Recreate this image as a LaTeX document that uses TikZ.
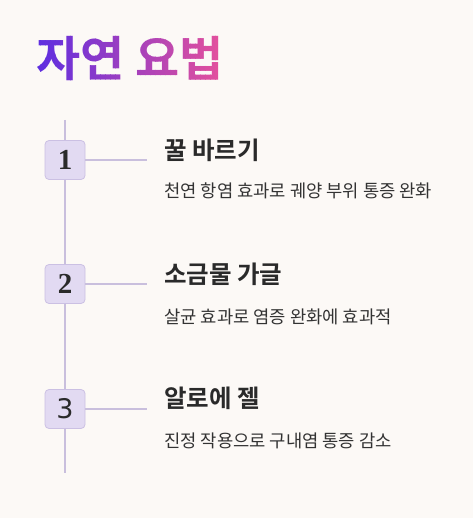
\documentclass[tikz,border=0pt]{standalone}
\usepackage{fontspec}
\newfontfamily\kr{Noto Sans CJK KR}
\newfontfamily\krb{Noto Sans CJK KR Bold}
\newfontfamily\numserif{Liberation Serif}
\newfontfamily\numsans{DejaVu Sans}
\definecolor{bg}{HTML}{FCF9F6}
\definecolor{linec}{HTML}{C9BFDD}
\definecolor{boxfill}{HTML}{E2DAF2}
\definecolor{boxdraw}{HTML}{CBC0E3}
\definecolor{headc}{HTML}{2A2A2A}
\definecolor{descc}{HTML}{333333}
\definecolor{gradl}{HTML}{5A2DE2}
\definecolor{gradr}{HTML}{E8529A}
\tikzset{
  numbox/.style={draw=boxdraw, fill=boxfill, line width=0.8pt, rounded corners=4pt, minimum width=40pt, minimum height=39pt, inner sep=0pt, text=headc},
  spine/.style={draw=linec, line width=1.3pt},
  heading/.style={anchor=base west, inner sep=0pt, text=headc, font=\krb\fontsize{24.5}{28}\selectfont},
  desc/.style={anchor=base west, inner sep=0pt, text=descc, font=\kr\fontsize{17.7}{20}\selectfont},
  titletext/.style={anchor=base west, inner sep=0pt, font=\krb\fontsize{48}{52}\selectfont}
}
\begin{document}
\begin{tikzpicture}[x=1pt,y=-1pt]
\fill[bg] (0,0) rectangle (473,518);
\useasboundingbox (0,0) rectangle (473,518);
% gradient title
\foreach \i in {0,...,39}{
  \pgfmathsetmacro{\xa}{30+\i*5}
  \pgfmathsetmacro{\xb}{30+\i*5+5.3}
  \pgfmathsetmacro{\p}{\i*100/39}
  \colorlet{tc}{gradr!\p!gradl}
  \begin{scope}
    \clip (\xa,20) rectangle (\xb,100);
    \node[titletext, text=tc] (title\i) at (36,77) {자연 요법};
  \end{scope}
}
\coordinate (top) at (65,120);
\coordinate (bot) at (65,473);
\node[numbox, font=\numserif\bfseries\fontsize{29}{30}\selectfont] (n1) at (65,160) {1};
\node[numbox, font=\numserif\bfseries\fontsize{29}{30}\selectfont] (n2) at (65,284) {2};
\node[numbox, font=\numsans\fontsize{27}{28}\selectfont] (n3) at (65,409) {3};
\coordinate (h1) at (147,160);
\coordinate (h2) at (147,284);
\coordinate (h3) at (147,409);
\draw[spine] (top) -- (n1.north);
\draw[spine] (n1.south) -- (n2.north);
\draw[spine] (n2.south) -- (n3.north);
\draw[spine] (n3.south) -- (bot);
\draw[spine] (n1.east) -- (h1);
\draw[spine] (n2.east) -- (h2);
\draw[spine] (n3.east) -- (h3);
\node[heading] (t1) at (164,160) {꿀 바르기};
\node[desc] (d1) at (164,198) {천연 항염 효과로 궤양 부위 통증 완화};
\node[heading] (t2) at (164,283) {소금물 가글};
\node[desc] (d2) at (164,323) {살균 효과로 염증 완화에 효과적};
\node[heading] (t3) at (164,407) {알로에 젤};
\node[desc] (d3) at (164,447) {진정 작용으로 구내염 통증 감소};
\end{tikzpicture}
\end{document}
